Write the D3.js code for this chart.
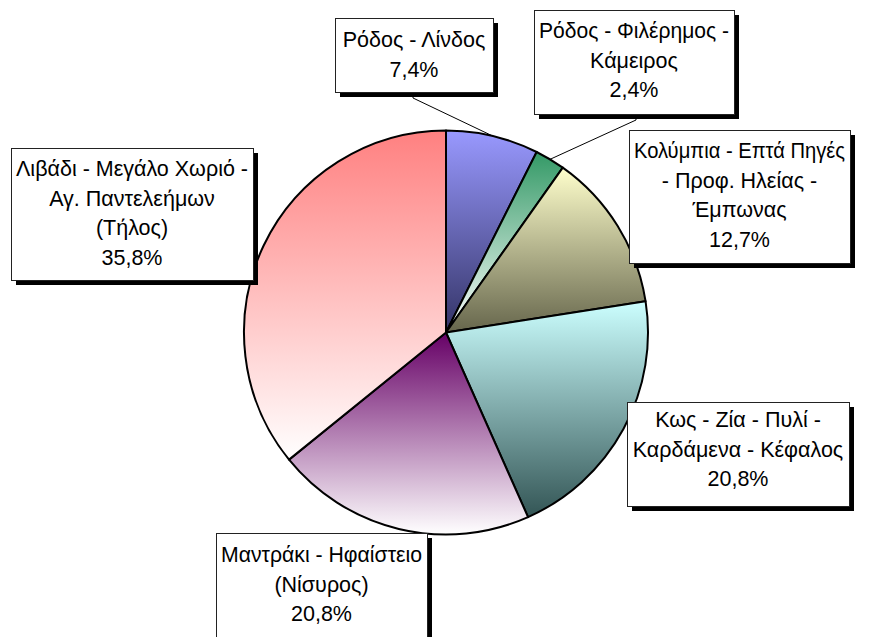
<!DOCTYPE html>
<html>
<head>
<meta charset="utf-8">
<script src="https://cdn.jsdelivr.net/npm/d3@7"></script>
<style>
html,body{margin:0;padding:0;background:#fff;}
svg{display:block;}
text{font-family:"Liberation Sans",Arial,sans-serif;font-size:21.5px;fill:#000;}
</style>
</head>
<body>
<svg id="chart" width="874" height="637"></svg>
<script>
// ---- data ----
const categories = [
  "Ρόδος - Λίνδος",
  "Ρόδος - Φιλέρημος - Κάμειρος",
  "Κολύμπια - Επτά Πηγές - Προφ. Ηλείας - Έμπωνας",
  "Κως - Ζία - Πυλί - Καρδάμενα - Κέφαλος",
  "Μαντράκι - Ηφαίστειο (Νίσυρος)",
  "Λιβάδι - Μεγάλο Χωριό - Αγ. Παντελεήμων (Τήλος)"
];
const values = [7.4, 2.4, 12.7, 20.8, 20.8, 35.8];
const percentLabels = ["7,4%", "2,4%", "12,7%", "20,8%", "20,8%", "35,8%"];
const labelLines = [
  ["Ρόδος - Λίνδος"],
  ["Ρόδος - Φιλέρημος -", "Κάμειρος"],
  ["Κολύμπια - Επτά Πηγές", "- Προφ. Ηλείας -", "Έμπωνας"],
  ["Κως - Ζία - Πυλί -", "Καρδάμενα - Κέφαλος"],
  ["Μαντράκι - Ηφαίστειο", "(Νίσυρος)"],
  ["Λιβάδι - Μεγάλο Χωριό -", "Αγ. Παντελεήμων", "(Τήλος)"]
];

// ---- styles / layout ----
const gradColors = [
  ["#9999ff", "#333366"],
  ["#339966", "#ffffff"],
  ["#ffffcc", "#66664c"],
  ["#ccffff", "#335555"],
  ["#660066", "#ffffff"],
  ["#ff8080", "#ffffff"]
];
// label boxes: x, y, w, h, first baseline offset
const boxes = [
  {x:335, y:18,  w:158, h:74,  b:29},
  {x:534, y:10,  w:200, h:104, b:28},
  {x:629, y:130, w:221, h:133, b:28},
  {x:627, y:402, w:222, h:104, b:25},
  {x:216, y:533, w:211, h:110, b:29},
  {x:11,  y:148, w:242, h:132, b:28}
];
// leader lines (index -> anchor on box bottom)
const leaders = [
  {i:0, x:413, y:92, drop:6},
  {i:1, x:636, y:114, drop:6}
];

const cx = 446, cy = 332.5, r = 202;
const lineH = 29.5;

const svg = d3.select("#chart");
const defs = svg.append("defs");
gradColors.forEach((c, i) => {
  const g = defs.append("linearGradient").attr("id", "g" + i)
    .attr("x1", 0).attr("y1", 0).attr("x2", 0).attr("y2", 1);
  g.append("stop").attr("offset", "0%").attr("stop-color", c[0]);
  g.append("stop").attr("offset", "100%").attr("stop-color", c[1]);
});

const pie = d3.pie().sort(null).value(d => d).startAngle(0).endAngle(2 * Math.PI);
const arcs = pie(values);
const arc = d3.arc().innerRadius(0).outerRadius(r);

const gPie = svg.append("g").attr("transform", `translate(${cx},${cy})`);
gPie.selectAll("path").data(arcs).join("path")
  .attr("d", arc)
  .attr("fill", (d, i) => `url(#g${i})`)
  .attr("stroke", "#000")
  .attr("stroke-width", 2)
  .attr("stroke-linejoin", "round");

// leader lines
leaders.forEach(l => {
  const a = arcs[l.i];
  const mid = (a.startAngle + a.endAngle) / 2;
  const ex = cx + r * Math.sin(mid);
  const ey = cy - r * Math.cos(mid);
  svg.append("polyline")
    .attr("points", `${l.x},${l.y} ${l.x},${l.y + l.drop} ${ex},${ey}`)
    .attr("fill", "none").attr("stroke", "#000").attr("stroke-width", 1);
});

// label boxes
const gLab = svg.append("g");
boxes.forEach((bx, i) => {
  const g = gLab.append("g");
  g.append("rect").attr("x", bx.x + 5).attr("y", bx.y + 5)
    .attr("width", bx.w).attr("height", bx.h).attr("fill", "#000");
  g.append("rect").attr("x", bx.x + 0.5).attr("y", bx.y + 0.5)
    .attr("width", bx.w).attr("height", bx.h)
    .attr("fill", "#fff").attr("stroke", "#222").attr("stroke-width", 1);
  const lines = labelLines[i].concat([percentLabels[i]]);
  lines.forEach((ln, j) => {
    const t = g.append("text").attr("text-anchor", "middle")
      .attr("x", bx.x + bx.w / 2).attr("y", bx.y + bx.b + j * lineH).text(ln);
    const maxW = bx.w - 10;
    const w = t.node().getComputedTextLength();
    if (w > maxW) t.attr("textLength", maxW).attr("lengthAdjust", "spacingAndGlyphs");
  });
});
</script>
</body>
</html>
